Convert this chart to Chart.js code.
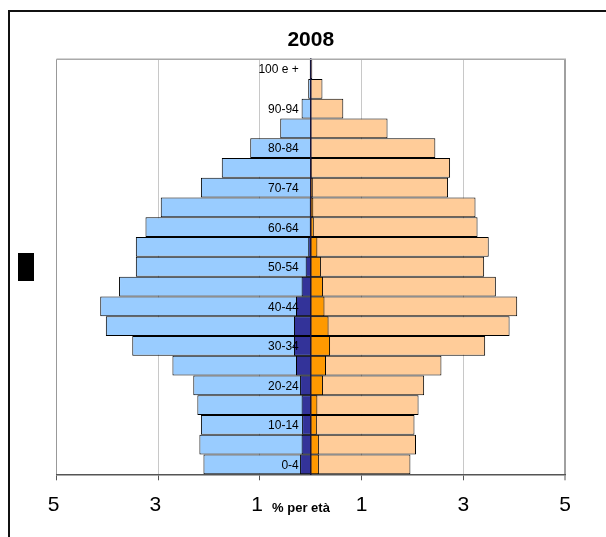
<!DOCTYPE html>
<html>
<head>
<meta charset="utf-8">
<script src="https://cdn.jsdelivr.net/npm/chart.js@4.4.0/dist/chart.umd.min.js"></script>
<style>
  html, body { margin: 0; padding: 0; background: #fff; }
  canvas { display: block; }
</style>
</head>
<body>
<canvas id="piramide" width="606" height="537"></canvas>
<script>
// classi di età, dal basso verso l'alto
const classi = ["0-4", "5-9", "10-14", "15-19", "20-24", "25-29", "30-34", "35-39", "40-44", "45-49",
  "50-54", "55-59", "60-64", "65-69", "70-74", "75-79", "80-84", "85-89", "90-94", "95-99", "100 e +"];

// % sul totale della popolazione
const maschi = [2.11, 2.19, 2.16, 2.23, 2.31, 2.72, 3.51, 4.03, 4.14, 3.77,
  3.44, 3.44, 3.25, 2.95, 2.16, 1.75, 1.19, 0.60, 0.18, 0.05, 0.02];
const femmine = [1.96, 2.07, 2.04, 2.12, 2.23, 2.57, 3.43, 3.91, 4.06, 3.64,
  3.41, 3.50, 3.28, 3.24, 2.70, 2.74, 2.45, 1.51, 0.64, 0.23, 0.03];
const maschiStranieri = [0.21, 0.18, 0.17, 0.18, 0.21, 0.29, 0.33, 0.33, 0.29, 0.18,
  0.10, 0.05, 0.02, 0.02, 0.01, 0.01, 0.005, 0.003, 0.002, 0.001, 0];
const femmineStranieri = [0.16, 0.16, 0.12, 0.13, 0.24, 0.30, 0.38, 0.35, 0.27, 0.24,
  0.20, 0.13, 0.06, 0.05, 0.04, 0.02, 0.01, 0.01, 0.005, 0.002, 0];

const anno = "2008";
const titoloAsse = "% per età";
const FONT = "Arial, 'Liberation Sans', sans-serif";

Chart.defaults.font.family = FONT;
Chart.defaults.color = "#000";

const neg = (arr) => arr.map(v => -v);

// etichette, cornice e dettagli alla Excel
const extra = {
  id: "extra",
  afterDatasetsDraw(chart) {
    const { ctx, scales: { x, y } } = chart;
    ctx.save();
    ctx.font = "12px " + FONT;
    ctx.fillStyle = "#000";
    ctx.textAlign = "right";
    ctx.textBaseline = "middle";
    const xl = x.getPixelForValue(0) - 12;
    classi.forEach((lab, i) => {
      if (i % 2 === 0) ctx.fillText(lab, xl, y.getPixelForValue(i) + 1);
    });
    ctx.restore();
  },
  afterDraw(chart) {
    const { ctx, chartArea: a } = chart;
    ctx.save();
    // bordo superiore area del grafico
    ctx.strokeStyle = "#aaaaaa";
    ctx.lineWidth = 1.5;
    ctx.beginPath();
    ctx.moveTo(a.left, a.top);
    ctx.lineTo(a.right + 1, a.top);
    ctx.stroke();
    // cornice esterna
    ctx.fillStyle = "#111";
    ctx.fillRect(8, 10, 606 - 8, 2);
    ctx.fillRect(8, 10, 2, 537 - 10);
    // titolo asse y (rimasto come blocco nero)
    ctx.fillStyle = "#000";
    ctx.fillRect(18, 253, 16, 28);
    // titolo asse x
    ctx.font = "bold 13px " + FONT;
    ctx.textAlign = "center";
    ctx.textBaseline = "alphabetic";
    ctx.fillText(titoloAsse, 301, 512);
    ctx.restore();
  }
};

new Chart(document.getElementById("piramide"), {
  type: "bar",
  data: {
    labels: classi,
    datasets: [
      { label: "Stranieri maschi", data: neg(maschiStranieri), backgroundColor: "#333399", order: 0 },
      { label: "Stranieri femmine", data: femmineStranieri, backgroundColor: "#FF9900", order: 0 },
      { label: "Maschi", data: neg(maschi), backgroundColor: "#99CCFF", order: 1 },
      { label: "Femmine", data: femmine, backgroundColor: "#FFCC99", order: 1 }
    ]
  },
  options: {
    indexAxis: "y",
    responsive: false,
    animation: false,
    devicePixelRatio: 1,
    layout: { padding: { left: 56.5, right: 41, top: 0, bottom: 0 } },
    datasets: {
      bar: {
        grouped: false,
        barPercentage: 1,
        categoryPercentage: 1,
        borderColor: "#000",
        borderWidth: 1,
        inflateAmount: 0
      }
    },
    plugins: {
      legend: { display: false },
      tooltip: { enabled: false },
      title: {
        display: true,
        text: anno,
        color: "#000",
        font: { size: 21, weight: "bold" },
        padding: { top: 28, bottom: 6 }
      }
    },
    scales: {
      x: {
        type: "linear",
        min: -5,
        max: 5,
        ticks: {
          stepSize: 2,
          padding: 12,
          color: "#000",
          maxRotation: 0,
          autoSkip: false,
          font: { size: 21 },
          callback: (v) => v < 0 ? Math.abs(v) + " " : String(v)
        },
        grid: {
          color: (c) => c.tick && c.tick.value === 5 ? "#a0a0a0" : (c.tick && c.tick.value === -5 ? "#999999" : "#c8c8c8"),
          lineWidth: (c) => c.tick && c.tick.value === 5 ? 2 : 1,
          tickLength: 6,
          tickColor: "#555",
          tickWidth: 1
        },
        border: { color: "#555", width: 1.5 },
        afterFit: (s) => { s.height = 62.7; }
      },
      y: {
        type: "category",
        reverse: true,
        offset: true,
        position: { x: 0 },
        grid: { display: false },
        border: { display: true, color: "#14143c", width: 1.5, z: 1 },
        ticks: { display: false }
      }
    }
  },
  plugins: [extra]
});
</script>
</body>
</html>
